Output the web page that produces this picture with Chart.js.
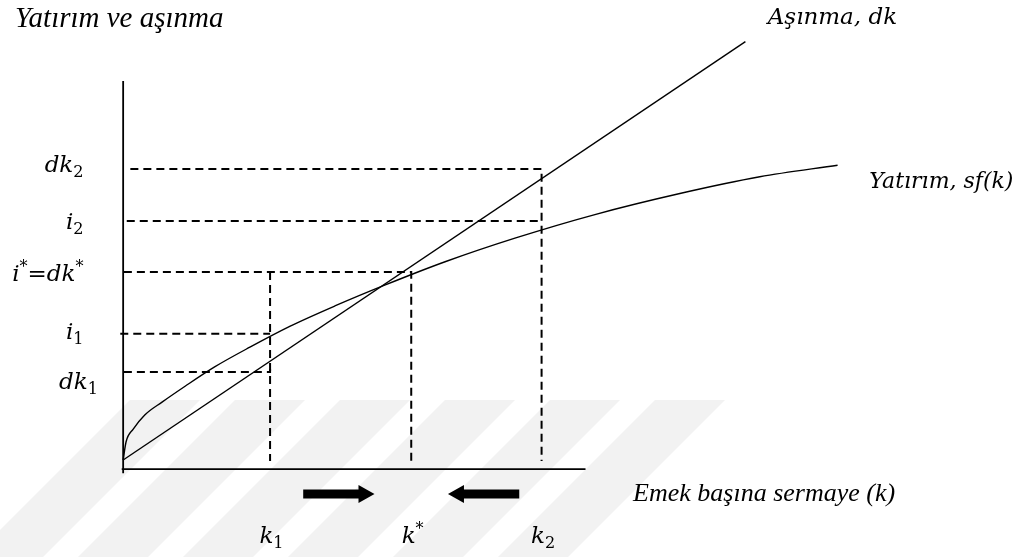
<!DOCTYPE html>
<html>
<head>
<meta charset="utf-8">
<script src="https://cdn.jsdelivr.net/npm/chart.js@4.4.1/dist/chart.umd.min.js"></script>
<style>
html,body{margin:0;padding:0;background:#ffffff;}
#wrap{width:1027px;height:557px;position:relative;}
</style>
</head>
<body>
<div id="wrap"><canvas id="c"></canvas></div>
<script>
// ---- data (k = capital per worker, v = investment / depreciation) ----
const sfK      = [0,    0.04, 0.14, 0.30, 0.54, 0.86, 1.27, 1.76, 2.32, 2.94, 3.64, 4.47, 5.44, 6.55, 7.73, 8.84, 9.92];
const sfValues = [0.21, 0.63, 0.93, 1.26, 1.56, 1.93, 2.38, 2.84, 3.33, 3.80, 4.29, 4.83, 5.38, 5.93, 6.42, 6.81, 7.08];
const dkK      = [0, 8.64];
const dkValues = [0.21, 9.96];

// k levels: k1, k*, k2
const kLevels     = [2.04, 4.00, 5.81];
const kLevelNames = ['k1', 'k*', 'k2'];
// value levels: dk2, i2, i*=dk*, i1, dk1
const vLevels     = [6.99, 5.78, 4.59, 3.15, 2.26];
const vLevelNames = ['dk2', 'i2', 'i*=dk*', 'i1', 'dk1'];

// axes extents
const xAxisEnd = 6.42;
const yAxisTop = 9.04;
const guideBottom = 0.19;

// direction arrows (from -> to), at one level under the axis
const arrowFrom = [2.50, 5.50];
const arrowTo   = [3.49, 4.51];
const arrowLevel = -0.58;

// ---- styles ----
const mathFont = '"DejaVu Serif", serif';
const textFont = '"Liberation Serif", "Times New Roman", serif';
const dash = [8, 5];

function pts(xs, ys){ return xs.map((x,i)=>({x:x, y:ys[i]})); }

const k1 = kLevels[0], kS = kLevels[1], k2 = kLevels[2];
const [dk2, i2, iS, i1, dk1] = vLevels;

const guides = [
  [{x:0.10,y:dk2},{x:k2,y:dk2},{x:k2,y:guideBottom}],
  [{x:0.05,y:i2},{x:k2,y:i2}],
  [{x:0.01,y:iS},{x:kS,y:iS},{x:kS,y:guideBottom}],
  [{x:k1,y:iS},{x:k1,y:guideBottom}],
  [{x:-0.04,y:i1},{x:k1,y:i1}],
  [{x:0.01,y:dk1},{x:k1,y:dk1},{x:k1,y:dk1+0.07}]
];

const datasets = [
  {data:[{x:0,y:-0.1},{x:0,y:yAxisTop}], borderColor:'#000', borderWidth:1.8},
  {data:[{x:-0.02,y:0},{x:xAxisEnd,y:0}], borderColor:'#000', borderWidth:1.8},
  {data:pts(dkK, dkValues), borderColor:'#000', borderWidth:1.4},
  {data:pts(sfK, sfValues), borderColor:'#000', borderWidth:1.4, cubicInterpolationMode:'monotone'}
];
guides.forEach(g=>datasets.push({data:g, borderColor:'#000', borderWidth:2, borderDash:dash}));
datasets.forEach(d=>{ d.showLine = true; d.pointRadius = 0; d.fill = false; });

// text labels (positions in data units)
const texts = [
  {runs:[{t:'Yatırım ve aşınma'}], x:-1.50, y:10.30, align:'left', font:textFont, size:29, italic:true},
  {runs:[{t:'Aşınma, dk'}], x:8.95, y:10.37, align:'left', font:mathFont, size:23, italic:true},
  {runs:[{t:'Yatırım, sf(k)'}], x:10.36, y:6.55, align:'left', font:mathFont, size:22, italic:true},
  {runs:[{t:'Emek başına sermaye (k)'}], x:7.08, y:-0.75, align:'left', font:textFont, size:26, italic:true}
];
function nameRuns(n){
  const out = [];
  for (const ch of n){
    if (/[0-9]/.test(ch)) out.push({t:ch, sub:true});
    else if (ch === '*') out.push({t:'*', sup:true});
    else if (out.length && !out[out.length-1].sub && !out[out.length-1].sup) out[out.length-1].t += ch;
    else out.push({t:ch});
  }
  return out;
}
kLevels.forEach((k,i)=>texts.push({runs:nameRuns(kLevelNames[i]), x:k+0.02, y:-1.72, align:'center', font:mathFont, size:23, italic:true}));
const vBase  = [6.92, 5.59, 4.38, 3.03, 1.86];
const vRight = [-0.55, -0.55, -0.55, -0.55, -0.35];
vLevels.forEach((v,i)=>texts.push({runs:nameRuns(vLevelNames[i]), x:vRight[i], y:vBase[i], align:'right', font:mathFont, size:23, italic:true}));

function runFont(r, t){
  const s = (r.sub||r.sup) ? t.size*0.7 : t.size;
  const it = (t.italic && !r.sub) ? 'italic ' : '';
  return it + s.toFixed(1) + 'px ' + t.font;
}

const overlay = {
  id:'overlay',
  beforeDatasetsDraw(chart){
    const c = chart.ctx;
    // faint diagonal watermark stripes
    c.save();
    c.fillStyle = '#f2f2f2';
    const top = 400, bot = 557, h = bot - top;
    for (let x0 = 130; x0 < 760; x0 += 105){
      c.beginPath();
      c.moveTo(x0, top); c.lineTo(x0+70, top);
      c.lineTo(x0+70-h, bot); c.lineTo(x0-h, bot);
      c.closePath(); c.fill();
    }
    c.restore();
  },
  afterDatasetsDraw(chart){
    const c = chart.ctx, xs = chart.scales.x, ys = chart.scales.y;
    c.save();
    c.fillStyle = '#000';
    // arrows
    arrowFrom.forEach((f,i)=>{
      const x0 = xs.getPixelForValue(f), x1 = xs.getPixelForValue(arrowTo[i]);
      const y = ys.getPixelForValue(arrowLevel);
      const dir = Math.sign(x1 - x0), head = 16, sh = 4.5, hh = 9;
      c.beginPath();
      c.moveTo(x0, y-sh); c.lineTo(x1-dir*head, y-sh); c.lineTo(x1-dir*head, y-hh);
      c.lineTo(x1, y); c.lineTo(x1-dir*head, y+hh); c.lineTo(x1-dir*head, y+sh);
      c.lineTo(x0, y+sh); c.closePath(); c.fill();
    });
    // texts
    c.textBaseline = 'alphabetic';
    c.textAlign = 'left';
    texts.forEach(t=>{
      let w = 0;
      t.runs.forEach(r=>{ c.font = runFont(r,t); r.w = c.measureText(r.t).width; w += r.w; });
      let x = xs.getPixelForValue(t.x);
      const y = ys.getPixelForValue(t.y);
      if (t.align === 'right') x -= w; else if (t.align === 'center') x -= w/2;
      t.runs.forEach(r=>{
        c.font = runFont(r,t);
        const dy = r.sub ? t.size*0.22 : (r.sup ? -t.size*0.38 : 0);
        c.fillText(r.t, x, y+dy);
        x += r.w;
      });
    });
    c.restore();
  }
};

new Chart(document.getElementById('c'), {
  type:'scatter',
  data:{datasets:datasets},
  options:{
    responsive:true, maintainAspectRatio:false, animation:false,
    layout:{padding:0},
    plugins:{legend:{display:false}, tooltip:{enabled:false}},
    scales:{
      x:{type:'linear', min:-1.71, max:12.55, display:false},
      y:{type:'linear', min:-2.05, max:10.93, display:false}
    },
    elements:{line:{tension:0}}
  },
  plugins:[overlay]
});
</script>
</body>
</html>
